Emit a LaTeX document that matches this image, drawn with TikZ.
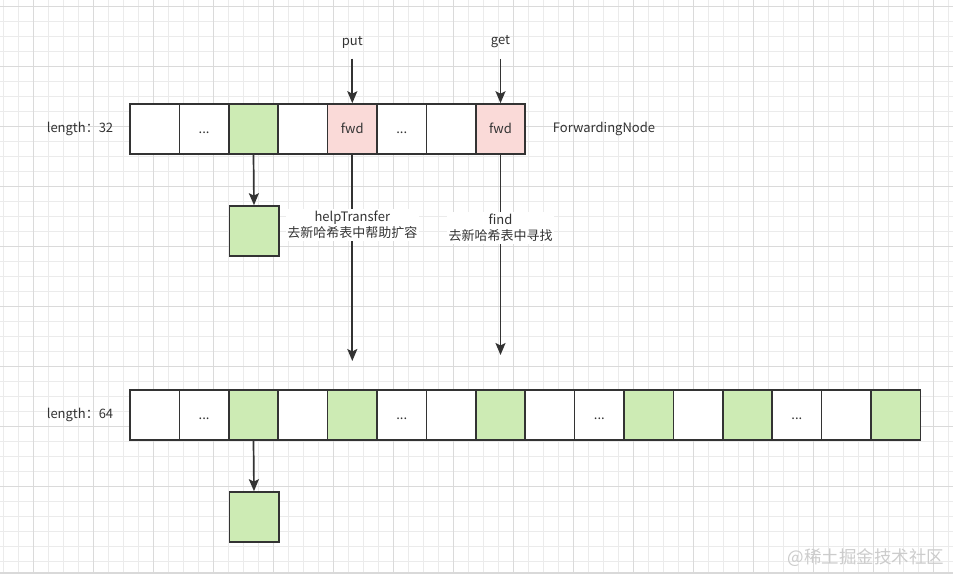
\documentclass[tikz,border=0pt]{standalone}
\usepackage{fontspec}
\setmainfont{Noto Sans CJK SC}
\usetikzlibrary{arrows.meta}
\definecolor{ink}{HTML}{333333}
\definecolor{gfill}{HTML}{CDEBB4}
\definecolor{pfill}{HTML}{FADAD8}
\definecolor{gridminor}{HTML}{EBEBEB}
\definecolor{gridmajor}{HTML}{DADADA}
\tikzset{
  cell/.style={draw=ink, line width=1.6pt, minimum width=49.4pt, minimum height=50pt,
    inner sep=0pt, text height=9.5pt, text depth=0pt, text=ink,
    font=\fontsize{13}{15}\selectfont},
  wc/.style={fill=white},
  gc/.style={fill=gfill},
  pc/.style={fill=pfill},
  lbl/.style={text=ink, font=\fontsize{13}{16.5}\selectfont, inner sep=1.5pt, align=center},
  arr/.style={draw=ink, line width=1.7pt, -{Stealth[length=12pt,width=10pt,inset=2.5pt]}},
}
\begin{document}
\begin{tikzpicture}[x=1pt,y=-1pt]
\useasboundingbox (0,0) rectangle (953,574);
\fill[white] (0,0) rectangle (953,574);
% grid
\foreach \i in {0,...,63} \draw[gridminor, line width=1pt] ({3.33+15*\i},0) -- ({3.33+15*\i},572);
\foreach \j in {0,...,37} \draw[gridminor, line width=1pt] (0,{6.67+15*\j}) -- (953,{6.67+15*\j});
\foreach \i in {0,...,15} \draw[gridmajor, line width=1pt] ({33.33+60*\i},0) -- ({33.33+60*\i},572);
\foreach \j in {0,...,8} \draw[gridmajor, line width=1pt] (0,{6.67+60*\j}) -- (953,{6.67+60*\j});
\fill[gray!30] (0,572) rectangle (953,574);
% top array
\foreach \i/\s/\t in {1/wc/,2/wc/{...},3/gc/,4/wc/,5/pc/fwd,6/wc/{...},7/wc/,8/pc/fwd}
  \node[cell,\s] (t\i) at ({130+49.4*(\i-0.5)},129) {\t};
% bottom array
\foreach \i/\s/\t in {1/wc/,2/wc/{...},3/gc/,4/wc/,5/gc/,6/wc/{...},7/wc/,8/gc/,9/wc/,10/wc/{...},11/gc/,12/wc/,13/gc/,14/wc/{...},15/wc/,16/gc/}
  \node[cell,\s] (b\i) at ({130+49.4*(\i-0.5)},415) {\t};
% small boxes
\node[cell,gc] (s1) at (254,231) {};
\node[cell,gc] (s2) at (254,517) {};
% labels
\node[lbl] (len32) at (80,129) {length：32};
\node[lbl] (len64) at (80,415) {length：64};
\node[lbl] (fwdn) at (604,129) {ForwardingNode};
\node[lbl] (put) at (t5 |- 0,42) {put};
\node[lbl] (get) at (t8 |- 0,42) {get};
\coordinate (h1) at (t5 |- 0,361);
\coordinate (h2) at (t8 |- 0,355);
% connectors
\draw[arr, shorten <=9pt] (put.south) -- (t5.north);
\draw[arr, shorten <=9pt] (get.south) -- (t8.north);
\draw[arr] (t3.south) -- (s1.north);
\draw[arr] (b3.south) -- (s2.north);
\draw[arr] (t5.south) -- (h1);
\draw[arr] (t8.south) -- (h2);
\node[lbl, fill=white] (help) at (t5 |- 0,225) {helpTransfer\\去新哈希表中帮助扩容};
\node[lbl, fill=white] (find) at (t8 |- 0,228) {find\\去新哈希表中寻找};
% watermark
\node[text=gray!40, font=\fontsize{17.5}{17.5}\selectfont, inner sep=0pt] (wm) at (866,558) {@稀土掘金技术社区};
\end{tikzpicture}
\end{document}
